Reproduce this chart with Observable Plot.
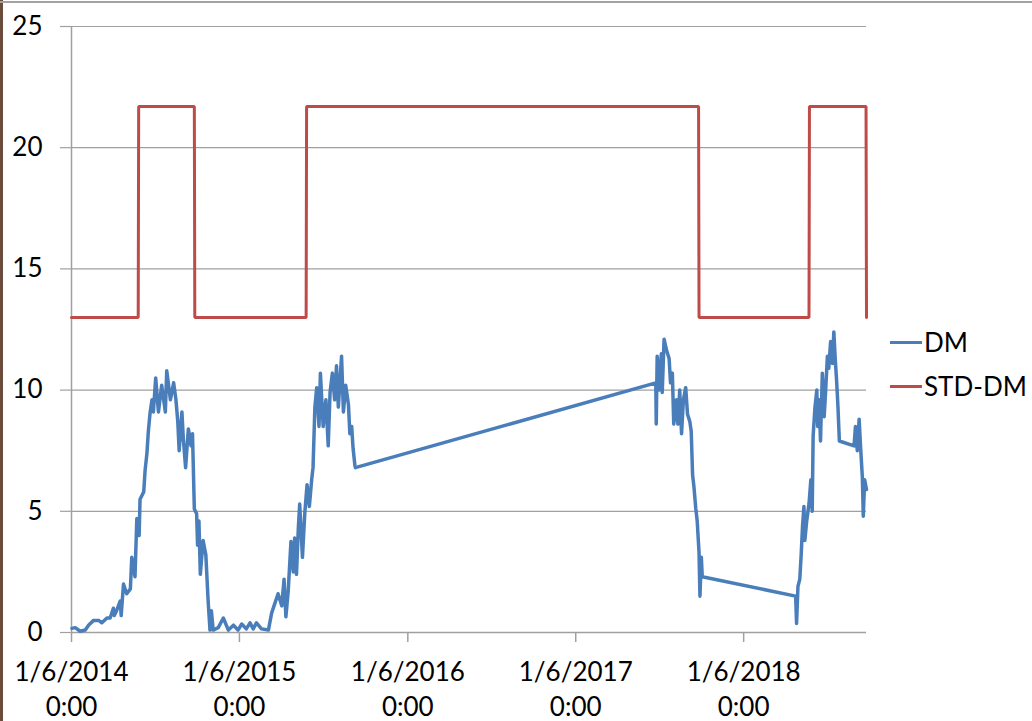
<!DOCTYPE html>
<html>
<head>
<meta charset="utf-8">
<script src="https://cdn.jsdelivr.net/npm/d3@7"></script>
<script src="https://cdn.jsdelivr.net/npm/@observablehq/plot@0.6"></script>
<style>
  html, body { margin: 0; padding: 0; background: #fff; }
  #wrap { position: relative; width: 1032px; height: 721px; overflow: hidden; font-family: Lato, "Open Sans", sans-serif; }
  #leftbar { position: absolute; left: 0; top: 0; width: 3px; height: 721px; background: #6b4b3c; }
  #topbar { position: absolute; left: 0; top: 1px; width: 1032px; height: 2px; background: #a3a3a3; }
  #legend { position: absolute; left: 890px; top: 0; font-size: 26px; color: #000; }
  .item { position: absolute; left: 0; white-space: nowrap; display: flex; align-items: center; }
  .swatch { display: inline-block; width: 32px; height: 3px; margin-right: 2px; }
</style>
</head>
<body>
<div id="wrap">
  <div id="chart"></div>
  <div id="leftbar"></div>
  <div id="topbar"></div>
  <div id="legend"></div>
</div>
<script>
// ---- data (days counted from the start date) ----
const startDate = "2014-06-01";
const endDay = 1728;

const dmDay = [1, 8, 19, 30, 37, 48, 59, 66, 77, 84, 91, 93, 98, 106, 108, 113, 120, 128, 131, 138,
  142, 147, 149, 157, 160, 164, 167, 171, 175, 178, 183, 189, 196, 204, 207, 215, 222, 227, 231, 234,
  240, 243, 248, 254, 260, 263, 267, 272, 274, 277, 280, 286, 292, 297, 301, 304, 308, 319, 330, 341,
  352, 362, 370, 380, 388, 395, 402, 413, 428, 435, 442, 449, 457, 462, 466, 471, 477, 482, 485, 489,
  493, 496, 502, 507, 512, 517, 522, 525, 529, 533, 538, 541, 547, 553, 558, 562, 567, 572, 576, 580,
  587, 591, 596, 602, 605, 609, 612, 616, 617,
  1270, 1271, 1273, 1277, 1282, 1284, 1288, 1294, 1299, 1302, 1306, 1309, 1315, 1318, 1322, 1326, 1330,
  1335, 1339, 1344, 1347, 1350, 1353, 1357, 1360, 1364, 1366, 1369, 1371,
  1574, 1576, 1579, 1583, 1586, 1589, 1592, 1594, 1598, 1603, 1607, 1610, 1612, 1616, 1620, 1622, 1625,
  1628, 1632, 1636, 1639, 1643, 1646, 1650, 1654, 1657, 1660, 1663, 1666, 1669,
  1701, 1704, 1708, 1712, 1715, 1719, 1721, 1724, 1728];

const dmValue = [0.17, 0.2, 0.05, 0.1, 0.3, 0.5, 0.5, 0.4, 0.6, 0.6, 1.0, 0.7, 0.9, 1.3, 0.7, 2.0, 1.6, 1.8, 3.1, 2.3,
  4.7, 4.0, 5.5, 5.8, 6.7, 7.4, 8.3, 9.1, 9.6, 9.1, 10.5, 9.1, 10.2, 9.1, 10.8, 9.6, 10.3, 9.6, 8.7, 7.5,
  9.1, 8.0, 6.8, 8.4, 7.7, 8.2, 5.1, 4.9, 3.6, 4.6, 2.4, 3.8, 3.2, 1.3, 0.1, 0.9, 0.1, 0.2, 0.6, 0.1,
  0.3, 0.1, 0.35, 0.15, 0.4, 0.15, 0.4, 0.15, 0.1, 0.8, 1.2, 1.6, 1.1, 2.2, 0.65, 1.7, 3.75, 2.5, 3.9, 2.4,
  4.3, 5.3, 3.1, 4.9, 6.1, 5.2, 6.3, 6.8, 9.3, 10.1, 8.5, 10.7, 8.5, 9.6, 7.7, 9.9, 10.7, 9.6, 11.0, 9.3,
  11.4, 9.1, 10.2, 9.4, 8.2, 8.5, 7.6, 6.9, 6.8,
  10.3, 8.6, 11.4, 10.0, 11.5, 9.9, 12.1, 11.6, 11.3, 10.3, 10.7, 8.6, 9.6, 8.6, 10.0, 8.2, 9.6,
  10.1, 9.0, 8.7, 8.3, 6.5, 6.0, 5.1, 4.6, 3.3, 1.5, 3.1, 2.3,
  1.5, 0.37, 1.9, 2.2, 3.2, 4.4, 5.2, 3.8, 4.6, 5.3, 6.3, 5.0, 8.1, 9.3, 10.0, 8.5, 9.6,
  7.9, 10.7, 8.9, 9.9, 11.4, 10.9, 12.0, 11.1, 12.4, 11.3, 10.4, 9.3, 7.9,
  7.7, 8.5, 7.5, 8.8, 7.7, 6.4, 4.8, 6.3, 5.9];

const stdDay   = [0, 145, 146, 267, 268, 510, 511, 1363, 1364, 1603, 1604, 1727, 1728];
const stdValue = [13, 13, 21.7, 21.7, 13, 13, 21.7, 21.7, 13, 13, 21.7, 21.7, 13];

const xTickDates = ["2014-06-01", "2015-06-01", "2016-06-01", "2017-06-01", "2018-06-01"];
const yTicks = [0, 5, 10, 15, 20, 25];
const seriesNames = ["DM", "STD-DM"];
const seriesColors = ["#4a7ebb", "#be4b48"];

// ---- build tables ----
const t0 = new Date(startDate + "T00:00:00Z");
const toDate = d => d3.utcDay.offset(t0, d);
const dm = dmDay.map((d, i) => ({date: toDate(d), value: dmValue[i]}));
const std = stdDay.map((d, i) => ({date: toDate(d), value: stdValue[i]}));
const xTicks = xTickDates.map(s => new Date(s + "T00:00:00Z"));

const gridColor = "#a0a0a0";

const chart = Plot.plot({
  width: 1032,
  height: 721,
  marginLeft: 71,
  marginRight: 166,
  marginTop: 26,
  marginBottom: 89,
  style: {fontFamily: "Lato, 'Open Sans', sans-serif", background: "transparent", color: "#000"},
  x: {type: "utc", domain: [t0, toDate(endDay)]},
  y: {domain: [0, 25]},
  marks: [
    Plot.gridY(yTicks.filter(v => v > 0), {stroke: gridColor, strokeOpacity: 1, strokeWidth: 1.2}),
    Plot.ruleX([t0], {stroke: gridColor, strokeWidth: 1.5}),
    Plot.ruleY([0], {stroke: gridColor, strokeWidth: 1.5}),
    Plot.axisY({
      ticks: yTicks, tickSize: 11, tickPadding: 18, fontSize: 26, label: null,
      stroke: gridColor, strokeWidth: 1.2, fill: "#000", tickFormat: d => String(d)
    }),
    Plot.axisX({
      ticks: xTicks, tickSize: 10, tickPadding: 13.5, fontSize: 26, label: null,
      lineHeight: 1.36, stroke: gridColor, strokeWidth: 1.5, fill: "#000",
      tickFormat: d => `${d.getUTCDate()}/${d.getUTCMonth() + 1}/${d.getUTCFullYear()}\n0:00`
    }),
    Plot.line(std, {x: "date", y: "value", stroke: seriesColors[1], strokeWidth: 3, strokeLinejoin: "miter"}),
    Plot.line(dm, {x: "date", y: "value", stroke: seriesColors[0], strokeWidth: 3.5, strokeLinejoin: "round"})
  ]
});
document.getElementById("chart").appendChild(chart);

// ---- legend ----
const legend = document.getElementById("legend");
const legendTops = [326, 370];
seriesNames.forEach((name, i) => {
  const item = document.createElement("div");
  item.className = "item";
  item.style.top = legendTops[i] + "px";
  const sw = document.createElement("span");
  sw.className = "swatch";
  sw.style.background = seriesColors[i];
  const label = document.createElement("span");
  label.textContent = name;
  item.appendChild(sw);
  item.appendChild(label);
  legend.appendChild(item);
});
</script>
</body>
</html>
